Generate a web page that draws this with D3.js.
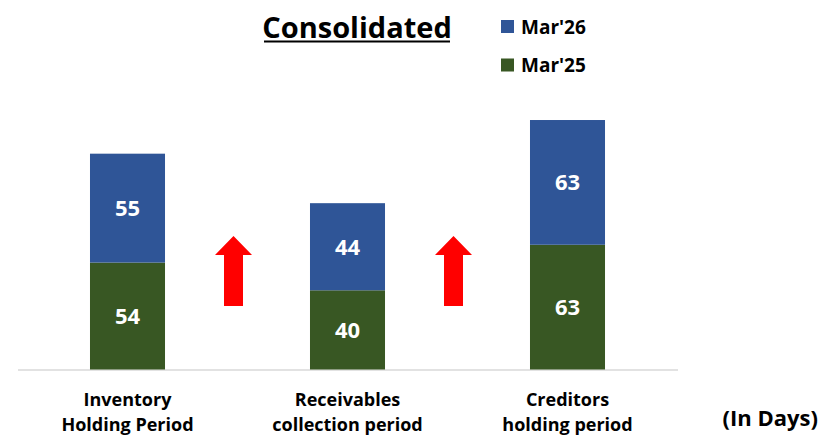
<!DOCTYPE html>
<html>
<head>
<meta charset="utf-8">
<script src="https://cdn.jsdelivr.net/npm/d3@7"></script>
<style>
  body { margin: 0; background: #fff; }
  text { font-family: "Open Sans", sans-serif; font-weight: bold; }
</style>
</head>
<body>
<div id="chart"></div>
<script>
var categories = [['Inventory', 'Holding Period'], ['Receivables', 'collection period'], ['Creditors', 'holding period']]
var mar25 = [54, 40, 63]
var mar26 = [55, 44, 63]
var seriesNames = ["Mar'26", "Mar'25"]
var arrows = [[0, 1], [1, 2]]

var color = {"Mar'26": '#2F5597', "Mar'25": '#385723'}

var width = 821
var height = 438

var svg = d3.select('#chart')
      .append('svg')
        .attr('width', width)
        .attr('height', height)

var keys = categories.map(function(d) { return d.join(' ') })

var x = d3.scaleBand()
    .domain(keys)
    .range([17.5, 677.5])
    .paddingInner(0.659)
    .paddingOuter(0.3295)

var y = d3.scaleLinear()
    .domain([0, 100])
    .range([369.5, 171.5])

var rows = keys.map(function(k, i) { return {key: k, "Mar'25": mar25[i], "Mar'26": mar26[i]} })
var stack = d3.stack().keys(["Mar'25", "Mar'26"])
var layers = stack(rows)

// baseline
svg.append('line')
  .attr('x1', 18).attr('x2', 678)
  .attr('y1', y(0) + 0.5).attr('y2', y(0) + 0.5)
  .attr('stroke', '#D9D9D9')
  .attr('stroke-width', 1.5)

var g = svg.selectAll('g.layer')
  .data(layers)
  .enter().append('g')
    .attr('class', 'layer')
    .attr('fill', function(d) { return color[d.key] })

g.selectAll('rect')
  .data(function(d) { return d })
  .enter().append('rect')
    .attr('x', function(d) { return x(d.data.key) })
    .attr('width', x.bandwidth())
    .attr('y', function(d) { return y(d[1]) })
    .attr('height', function(d) { return y(d[0]) - y(d[1]) })

g.selectAll('text')
  .data(function(d) { return d })
  .enter().append('text')
    .attr('x', function(d) { return x(d.data.key) + x.bandwidth() / 2 })
    .attr('y', function(d) { return (y(d[0]) + y(d[1])) / 2 + 8 })
    .attr('text-anchor', 'middle')
    .attr('fill', '#fff')
    .style('font-size', '22px')
    .text(function(d) { return d[1] - d[0] })

// red up arrows between bars
var aw = 37, sw = 19, ah = 70, hh = 19, atop = 236
svg.selectAll('path.arrow')
  .data(arrows)
  .enter().append('path')
    .attr('class', 'arrow')
    .attr('fill', '#FF0000')
    .attr('d', function(d) {
      var cx = (x(keys[d[0]]) + x(keys[d[1]]) + x.bandwidth()) / 2 - 4
      return 'M' + cx + ',' + atop +
        'L' + (cx + aw / 2) + ',' + (atop + hh) +
        'L' + (cx + sw / 2) + ',' + (atop + hh) +
        'L' + (cx + sw / 2) + ',' + (atop + ah) +
        'L' + (cx - sw / 2) + ',' + (atop + ah) +
        'L' + (cx - sw / 2) + ',' + (atop + hh) +
        'L' + (cx - aw / 2) + ',' + (atop + hh) + 'Z'
    })

// category labels
var lab = svg.selectAll('text.cat')
  .data(categories)
  .enter().append('text')
    .attr('class', 'cat')
    .attr('text-anchor', 'middle')
    .attr('fill', '#000')
    .style('font-size', '18px')

lab.each(function(d, i) {
  var t = d3.select(this)
  d.forEach(function(line, j) {
    t.append('tspan')
      .attr('x', x(keys[i]) + x.bandwidth() / 2)
      .attr('y', 406 + j * 24.6)
      .text(line)
  })
})

svg.append('text')
  .attr('x', 818).attr('y', 426)
  .attr('text-anchor', 'end')
  .style('font-size', '22px')
  .text('(In Days)')

// title
var title = svg.append('text')
  .attr('x', 357).attr('y', 37.5)
  .attr('text-anchor', 'middle')
  .style('font-size', '29px')
  .text('Consolidated')

svg.append('line')
  .attr('x1', 264).attr('x2', 450)
  .attr('y1', 41.5).attr('y2', 41.5)
  .attr('stroke', '#000')
  .attr('stroke-width', 2)

// legend
var leg = svg.selectAll('g.legend')
  .data(seriesNames)
  .enter().append('g')
    .attr('class', 'legend')
    .attr('transform', function(d, i) { return 'translate(501,' + (20 + i * 38.5) + ')' })

leg.append('rect')
  .attr('width', 13).attr('height', 13)
  .attr('fill', function(d) { return color[d] })

leg.append('text')
  .attr('x', 20).attr('y', 13.5)
  .style('font-size', '19px')
  .text(function(d) { return d })
</script>
</body>
</html>
